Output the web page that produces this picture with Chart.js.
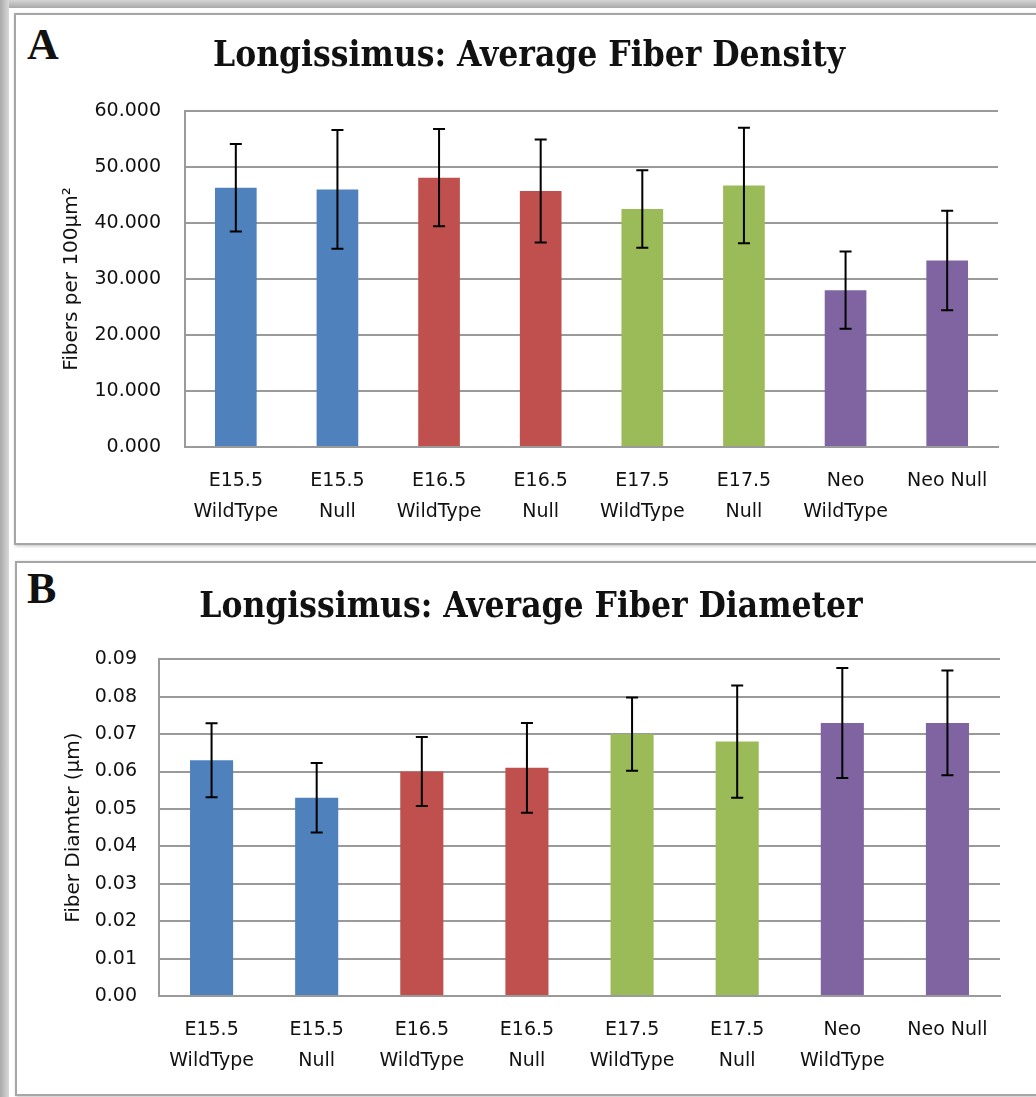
<!DOCTYPE html>
<html>
<head>
<meta charset="utf-8">
<script src="https://cdn.jsdelivr.net/npm/chart.js@4/dist/chart.umd.min.js"></script>
<style>
  html, body { margin: 0; padding: 0; background: #ffffff; }
  #page { position: relative; width: 1036px; height: 1097px; overflow: hidden; background: #ffffff; }
  .shade-top { position: absolute; left: 0; top: 0; width: 1036px; height: 8px;
    background: linear-gradient(to bottom, #d4d4d4, #a9a9a9); }
  .shade-left { position: absolute; left: 0; top: 0; width: 9px; height: 1097px;
    background: linear-gradient(to right, #a9a9a9, #d8d8d8); }
  .panel { position: absolute; background: #ffffff; border: 2px solid #a6a6a6;
    box-shadow: 1px 1px 3px rgba(0,0,0,0.25); }
  #panelA { left: 14px; top: 13px; width: 1040px; height: 528px; }
  #panelB { left: 15px; top: 561px; width: 1040px; height: 531px; }
  .letter { position: absolute; font-family: "Liberation Serif", serif; font-weight: bold;
    font-size: 44px; line-height: 44px; color: #111; }
  canvas { position: absolute; left: 0; }
  #wrapA { position: absolute; left: 0; top: 0; width: 1036px; height: 545px; }
  #wrapB { position: absolute; left: 0; top: 550px; width: 1036px; height: 547px; }
</style>
</head>
<body>
<div id="page">
  <div class="shade-top"></div>
  <div class="shade-left"></div>
  <div class="panel" id="panelA"></div>
  <div class="panel" id="panelB"></div>
  <div class="letter" style="left:27px; top:23px;">A</div>
  <div class="letter" style="left:27px; top:567px;">B</div>
  <div id="wrapA"><canvas id="chartA" width="1036" height="545"></canvas></div>
  <div id="wrapB"><canvas id="chartB" width="1036" height="547"></canvas></div>
</div>
<script>
// Groups along the x axis (two-line labels)
const categories = [
  ["E15.5", "WildType"], ["E15.5", "Null"],
  ["E16.5", "WildType"], ["E16.5", "Null"],
  ["E17.5", "WildType"], ["E17.5", "Null"],
  ["Neo", "WildType"], "Neo Null"
];

// Average fiber density (fibers per 100 µm²) and its error
const densityValues = [46.3, 46.0, 48.1, 45.7, 42.5, 46.7, 28.0, 33.3];
const densityErrors = [7.8, 10.6, 8.7, 9.2, 6.9, 10.3, 6.9, 8.9];

// Average fiber diameter (µm) and its error
const diameterValues = [0.063, 0.053, 0.060, 0.061, 0.070, 0.068, 0.073, 0.073];
const diameterErrors = [0.0099, 0.0093, 0.0092, 0.012, 0.0098, 0.015, 0.0147, 0.014];

// Axis ranges
const densityAxis = { min: 0, max: 60, step: 10, decimals: 3 };
const diameterAxis = { min: 0, max: 0.09, step: 0.01, decimals: 2 };

// One colour per developmental stage
const stageColors = ["#4F81BD", "#4F81BD", "#C0504D", "#C0504D",
                     "#9BBB59", "#9BBB59", "#8064A2", "#8064A2"];

// Symmetric error bars with caps, drawn through the y scale
const errorBarPlugin = {
  id: "errorBars",
  afterDatasetsDraw(chart, args, opts) {
    const errs = opts.errors;
    if (!errs) return;
    const meta = chart.getDatasetMeta(0);
    const yScale = chart.scales.y;
    const data = chart.data.datasets[0].data;
    const ctx = chart.ctx;
    ctx.save();
    ctx.strokeStyle = "#000000";
    ctx.lineWidth = 2;
    meta.data.forEach((bar, i) => {
      const x = bar.x;
      const top = yScale.getPixelForValue(data[i] + errs[i]);
      const bottom = yScale.getPixelForValue(data[i] - errs[i]);
      const cap = 6;
      ctx.beginPath();
      ctx.moveTo(x, top); ctx.lineTo(x, bottom);
      ctx.moveTo(x - cap, top); ctx.lineTo(x + cap, top);
      ctx.moveTo(x - cap, bottom); ctx.lineTo(x + cap, bottom);
      ctx.stroke();
    });
    ctx.restore();
  }
};

function makeChart(canvasId, cfg) {
  return new Chart(document.getElementById(canvasId), {
    type: "bar",
    data: {
      labels: categories,
      datasets: [{
        data: cfg.values,
        backgroundColor: stageColors,
        borderWidth: 0,
        barPercentage: 0.41,
        categoryPercentage: 1.0
      }]
    },
    options: {
      responsive: false,
      animation: false,
      layout: { padding: { left: cfg.padLeft, right: cfg.padRight, top: 0, bottom: 0 } },
      plugins: {
        legend: { display: false },
        tooltip: { enabled: false },
        title: {
          display: true,
          text: cfg.title,
          color: "#111111",
          font: { family: "DejaVu Serif Condensed", weight: "bold", size: 35, lineHeight: 1.2 },
          padding: { top: cfg.titleTop, bottom: cfg.titleBottom }
        },
        errorBars: { errors: cfg.errors }
      },
      scales: {
        x: {
          grid: { display: false, drawTicks: false },
          border: { display: true, color: "#9a9a9a", width: 2 },
          ticks: {
            color: "#111111",
            font: { family: "DejaVu Sans", size: 19, lineHeight: 1.6 },
            padding: cfg.xPad,
            maxRotation: 0,
            autoSkip: false
          },
          afterFit(scale) { scale.height = cfg.xHeight; }
        },
        y: {
          min: cfg.axis.min,
          max: cfg.axis.max,
          grid: { color: "#9a9a9a", lineWidth: 2, drawTicks: false },
          border: { display: true, color: "#9a9a9a", width: 2 },
          ticks: {
            stepSize: cfg.axis.step,
            color: "#111111",
            font: { family: "DejaVu Sans", size: 19 },
            padding: cfg.yPad,
            callback: (v) => Number(v).toFixed(cfg.axis.decimals)
          },
          title: {
            display: true,
            text: cfg.yTitle,
            color: "#111111",
            font: { family: "DejaVu Sans", size: 20 },
            padding: 0
          },
          afterFit(scale) { scale.width = cfg.yWidth; }
        }
      }
    },
    plugins: [errorBarPlugin]
  });
}

makeChart("chartA", {
  values: densityValues,
  errors: densityErrors,
  axis: densityAxis,
  title: "Longissimus: Average Fiber Density",
  yTitle: "Fibers per 100µm²",
  padLeft: 60, padRight: 38,
  titleTop: 36, titleBottom: 33,
  yWidth: 125, yPad: 24,
  xHeight: 98, xPad: 19
});

makeChart("chartB", {
  values: diameterValues,
  errors: diameterErrors,
  axis: diameterAxis,
  title: "Longissimus: Average Fiber Diameter",
  yTitle: "Fiber Diamter (µm)",
  padLeft: 62, padRight: 36,
  titleTop: 37, titleBottom: 30.3,
  yWidth: 97, yPad: 22,
  xHeight: 101, xPad: 19
});
</script>
</body>
</html>
